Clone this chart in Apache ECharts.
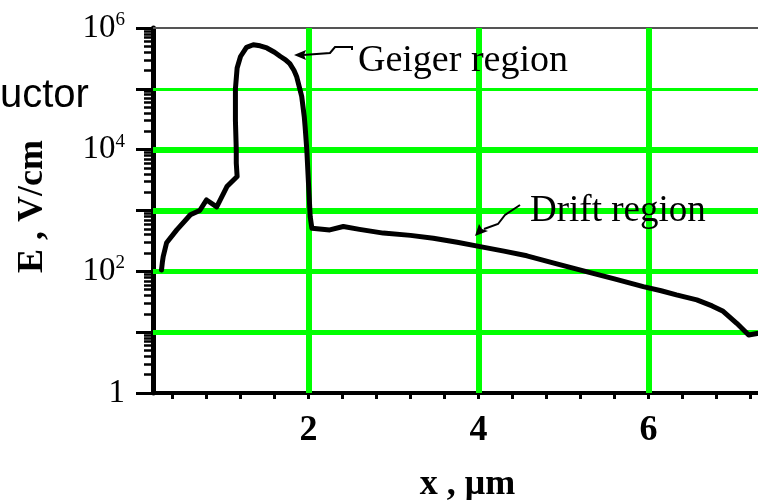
<!DOCTYPE html>
<html>
<head>
<meta charset="utf-8">
<script src="https://cdn.jsdelivr.net/npm/echarts@6/dist/echarts.min.js"></script>
<style>html,body{margin:0;padding:0;background:#fff}#c{width:758px;height:500px}</style>
</head>
<body>
<div id="c"></div>
<script>
// Field along x (μm) and E (V/cm)
const xPos = [0.27,0.28,0.29,0.33,0.45,0.61,0.72,0.80,0.92,1.04,1.10,1.16,1.15,1.15,1.14,1.14,1.16,1.20,1.27,1.35,1.43,1.51,1.60,1.67,1.73,1.78,1.83,1.86,1.89,1.92,1.95,1.96,1.98,2.00,2.02,2.04,2.25,2.41,2.60,2.88,3.20,3.47,3.75,4.02,4.30,4.57,4.90,5.27,5.60,5.94,6.15,6.33,6.57,6.75,6.88,7.04,7.18,7.28];
const eField = [105,140,175,295,480,850,1000,1490,1150,2470,3000,3630,6000,10000,30000,100000,220000,340000,480000,530000,510000,470000,400000,340000,300000,260000,200000,160000,110000,75000,35000,24000,10000,2800,790,510,480,545,490,425,390,350,300,255,215,180,135,99,75,56,48,41,34,27,22,14,9,9.5];

const xTickValues = [0.4,0.8,1.2,1.6,2,2.4,2.8,3.2,3.6,4,4.4,4.8,5.2,5.6,6,6.4,6.8,7.2];
const xLabelValues = [2,4,6];
const yLabelValues = [1,100,10000,1000000];
const yMinorValues = [];
[1,10,100,1000,10000,100000].forEach(d => { for (let k = 2; k <= 9; k++) yMinorValues.push(d * k); });
const xGridValues = [2,4,6];
const yGridValues = [10,100,1000,10000,100000];
const yGridWidths = [5,5,6,6,3];

const serif = 'Liberation Serif';
const chart = echarts.init(document.getElementById('c'), null, {renderer: 'canvas'});
const green = '#00ff00';

chart.setOption({
  animation: false,
  backgroundColor: '#fff',
  grid: {left: 153, right: 0, top: 28, bottom: 107, containLabel: false, outerBoundsMode: 'none'},
  xAxis: [{
    type: 'value', min: 0.17, max: 7.29, position: 'bottom',
    axisLine: {show: true, onZero: false, lineStyle: {color: '#000', width: 4}},
    axisTick: {show: true, customValues: xTickValues, length: 6, lineStyle: {color: '#000', width: 3}},
    axisLabel: {customValues: xLabelValues, color: '#000', fontFamily: serif, fontSize: 36, fontWeight: 'bold', margin: 20},
    splitLine: {show: false},
    name: 'x , μm', nameLocation: 'middle', nameGap: 74, nameMoveOverlap: false,
    nameTextStyle: {color: '#000', fontFamily: serif, fontSize: 36, fontWeight: 'bold', padding: [0,0,0,24]}
  }, {
    type: 'value', min: 0.17, max: 7.29, position: 'top',
    axisLine: {show: true, lineStyle: {color: '#555', width: 2}},
    axisTick: {show: false}, axisLabel: {show: false}, splitLine: {show: false}
  }],
  yAxis: [{
    type: 'log', logBase: 10, min: 1, max: 1000000, position: 'left',
    axisLine: {show: true, lineStyle: {color: '#000', width: 5}},
    axisTick: {show: true, length: 17, lineStyle: {color: '#000', width: 3}},
    minorTick: {show: false},
    axisLabel: {
      customValues: yLabelValues, margin: 28, color: '#000', fontFamily: serif, fontSize: 33,
      formatter: v => { const e = Math.round(Math.log10(v)); return e === 0 ? '1' : '10{s|' + e + '}'; },
      rich: {s: {fontSize: 19, fontFamily: serif, color: '#000', padding: [0,0,16,0]}}
    },
    splitLine: {show: false},
    name: 'E , V/cm', nameLocation: 'middle', nameGap: 102, nameRotate: 90, nameMoveOverlap: false,
    nameTextStyle: {color: '#000', fontFamily: serif, fontSize: 36, fontWeight: 'bold', padding: [0,0,0,8]}
  }, {
    type: 'log', logBase: 10, min: 1, max: 1000000, position: 'left',
    axisLine: {show: false},
    axisTick: {show: true, customValues: yMinorValues, length: 9, lineStyle: {color: '#000', width: 2.5}},
    axisLabel: {show: false}, splitLine: {show: false}
  }],
  series: [{
    type: 'line', xAxisIndex: 0, yAxisIndex: 0, data: [], z: 1, silent: true,
    markLine: {
      z: 1, silent: true, symbol: 'none', label: {show: false},
      data: xGridValues.map(v => ({xAxis: v, lineStyle: {color: green, width: 6, type: 'solid'}}))
        .concat(yGridValues.map((v, i) => ({yAxis: v, lineStyle: {color: green, width: yGridWidths[i], type: 'solid'}})))
    }
  }, {
    type: 'line', xAxisIndex: 0, yAxisIndex: 0, z: 10,
    data: xPos.map((x, i) => [x, eField[i]]),
    showSymbol: false, symbol: 'none',
    lineStyle: {color: '#000', width: 5, join: 'round', cap: 'round'}
  }],
  graphic: [
    {type: 'text', z: 100, left: 0, top: 76, style: {text: 'uctor', fontFamily: 'Liberation Sans', fontSize: 40, fill: '#000'}},
    {type: 'text', z: 100, x: 358, y: 61, style: {text: 'Geiger region', fontFamily: serif, fontSize: 38, fill: '#000', verticalAlign: 'middle'}},
    {type: 'text', z: 100, x: 530, y: 211, style: {text: 'Drift region', fontFamily: serif, fontSize: 37, fill: '#000', verticalAlign: 'middle'}},
    {type: 'polyline', z: 100, shape: {points: [[352,50],[352,47],[335,47],[330,53],[303,55]]}, style: {stroke: '#000', lineWidth: 2, fill: null}},
    {type: 'polygon', z: 100, shape: {points: [[294,55],[306,50],[304,55],[306,60]]}, style: {fill: '#000'}},
    {type: 'polyline', z: 100, shape: {points: [[520,205],[505,215],[498,224],[484,229]]}, style: {stroke: '#000', lineWidth: 2, fill: null}},
    {type: 'polygon', z: 100, shape: {points: [[475,236],[479,224],[482,229],[488,231]]}, style: {fill: '#000'}}
  ]
});
</script>
</body>
</html>
